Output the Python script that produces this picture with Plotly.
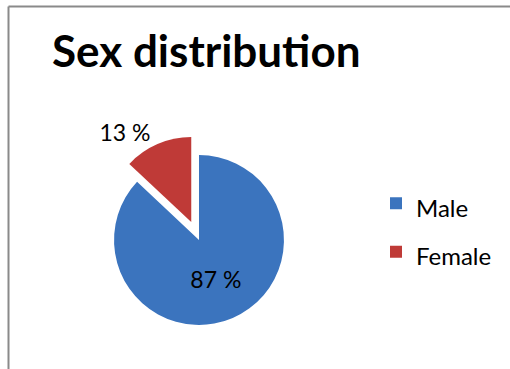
import plotly.graph_objects as go

# Sex distribution of the sample (percent)
labels = ["Male", "Female"]
values = [87, 13]
colors = ["#3b74be", "#bf3a37"]
pulls = [0, 0.23]

W, H = 510, 369
FONT = "Lato"

# legend entries: the legend font sets the row height, the span sets the glyph size
legend_labels = [f"<span style='font-size:24px'>{lab}</span>" for lab in labels]

fig = go.Figure(
    go.Pie(
        labels=legend_labels,
        values=values,
        sort=False,
        direction="clockwise",
        rotation=0,
        pull=pulls,
        marker=dict(colors=colors, line=dict(width=0)),
        texttemplate="%{value} %",
        textposition=["inside", "outside"],
        textfont=dict(family=FONT, size=23, color="#000000"),
        insidetextorientation="horizontal",
        hoverinfo="skip",
        domain=dict(x=[94.5 / W, 303.5 / W], y=[(H - 344.5) / H, (H - 135.5) / H]),
    )
)

border = dict(color="#8a8a8a", width=2)

fig.update_layout(
    width=W,
    height=H,
    margin=dict(l=0, r=0, t=0, b=0),
    paper_bgcolor="white",
    plot_bgcolor="white",
    title=dict(
        text="<b>Sex distribution</b>",
        font=dict(family=FONT, size=44, color="#000000"),
        xref="paper",
        yref="paper",
        x=52 / W,
        xanchor="left",
        y=1 - 52 / H,
        yanchor="middle",
    ),
    legend=dict(
        x=376 / W,
        xanchor="left",
        y=1 - 174 / H,
        yanchor="top",
        font=dict(family=FONT, size=35, color="#000000"),
        bgcolor="rgba(0,0,0,0)",
    ),
    shapes=[
        dict(type="line", xref="paper", yref="paper",
             x0=8.5 / W, x1=1.0, y0=1 - 6.5 / H, y1=1 - 6.5 / H, line=border),
        dict(type="line", xref="paper", yref="paper",
             x0=8.5 / W, x1=8.5 / W, y0=0.0, y1=1 - 6.5 / H, line=border),
    ],
)

fig.write_html("out.html", config={"displayModeBar": False})
